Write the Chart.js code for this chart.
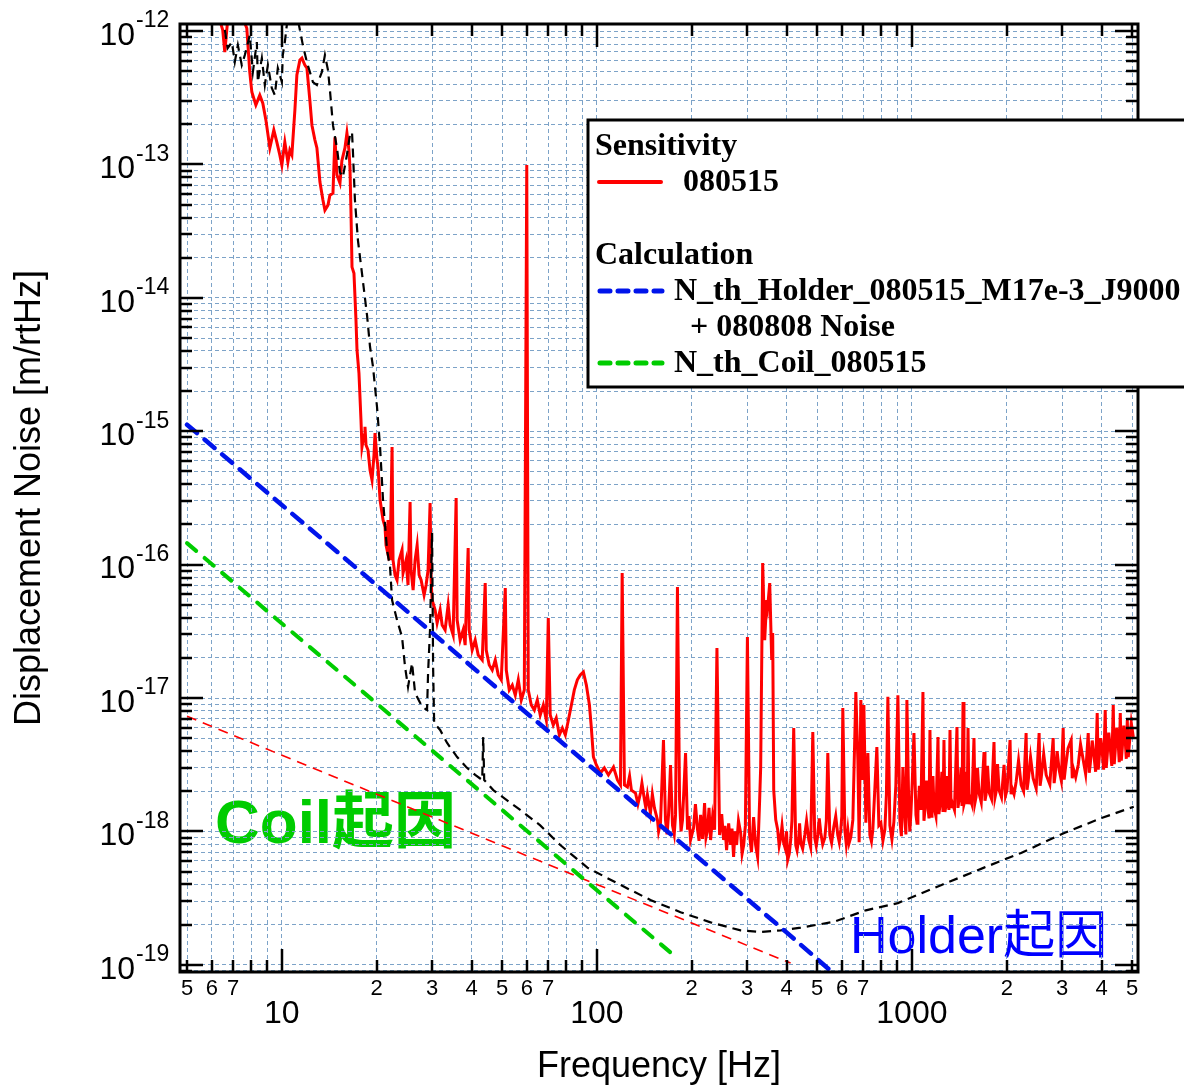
<!DOCTYPE html>
<html>
<head>
<meta charset="utf-8">
<script src="https://cdn.jsdelivr.net/npm/chart.js"></script>
<style>
  html, body { margin: 0; padding: 0; background: #fff; }
  #wrap { width: 1184px; height: 1087px; }
</style>
</head>
<body>
<div id="wrap"><canvas id="myChart" width="1184" height="1087"></canvas></div>
<script>
//measured sensitivity 080515 : [frequency Hz, m/rtHz]
const sensitivity = [
  [6.35,1.21e-12],[6.49,1.02e-12],[6.59,6.96e-13],[6.73,1.21e-12],[7.09,1.44e-12],[7.46,1.32e-12],[7.74,1.05e-12],[7.91,4.93e-13],[8.03,3.49e-13],[8.27,2.79e-13],[8.51,3.31e-13],[8.70,2.88e-13],[8.90,2.15e-13],[9.16,1.33e-13],[9.43,1.81e-13],[9.64,1.47e-13],[9.85,1.18e-13],[10.0,9.9e-14],
  [10.22,1.47e-13],[10.45,1.04e-13],[10.6,1.28e-13],[10.76,1.18e-13],[11.0,2.56e-13],[11.16,4.68e-13],[11.41,6.06e-13],[11.58,6.27e-13],[11.83,5.56e-13],[12.01,5.28e-13],[12.27,3.04e-13],[12.46,1.97e-13],[12.73,1.53e-13],[12.92,1.33e-13],[13.21,7.38e-14],[13.5,5.41e-14],[13.7,4.55e-14],[14.01,4.96e-14],[14.21,5.89e-14],[14.53,6.1e-14],[14.74,1.6e-13],[14.96,8.33e-14],
  [15.29,7.25e-14],[15.51,1.07e-13],[15.86,1.33e-13],[16.09,1.72e-13],[16.33,1.28e-13],[16.45,9.56e-14],[16.57,4.55e-14],[16.7,1.7e-14],[16.94,1.53e-14],[17.19,6.82e-15],[17.32,4.07e-15],[17.57,2.73e-15],[17.83,1.22e-15],[17.96,7.61e-16],[18.23,9.36e-16],[18.36,1.08e-15],[18.5,7.88e-16],[18.77,7.23e-16],[19.05,5.12e-16],[19.33,4.31e-16],[19.61,6.63e-16],[19.76,9.7e-16],
  [20.05,6.08e-16],[20.2,5.39e-16],[20.5,3.05e-16],[20.95,2.16e-16],[21.26,1.91e-16],[21.41,1.4e-16],[21.57,1.29e-16],[21.73,2.16e-16],[22.05,1.08e-16],[22.38,7.61e-16],[22.54,1.08e-16],[22.87,8.36e-17],[23.21,7.67e-17],[23.55,1.08e-16],[24.07,1.29e-16],[24.25,8.65e-17],[24.79,1.08e-16],[25.15,7.03e-17],[25.53,2.95e-16],[25.71,9.11e-17],[26.1,6.45e-17],[26.48,1.08e-16],[26.88,1.4e-16],[27.27,8.36e-17],[27.67,7.67e-17],[28.28,5.91e-17],[28.7,7.03e-17],[29.12,9.11e-17],[29.55,2.9e-16],[29.77,7.67e-17],[29.99,5.43e-17],
  [30.66,4.57e-17],[31.11,3.65e-17],[31.8,4.57e-17],[32.27,3.53e-17],[32.98,3.24e-17],[33.72,4.98e-17],[34.21,3.53e-17],[34.97,2.97e-17],[35.75,3.16e-16],[36.01,3.84e-17],[36.81,2.72e-17],[37.63,3.24e-17],[38.18,2.49e-17],[39.03,1.33e-16],[39.32,3.24e-17],[40.19,2.29e-17],[41.09,2.72e-17],[42.01,2.1e-17],[43.25,1.93e-17],[44.21,7.28e-17],[44.54,2.29e-17],[45.53,1.77e-17],[46.54,1.62e-17],[47.58,1.93e-17],[48.63,1.49e-17],[49.71,1.37e-17],
  [51.2,6.68e-17],[51.57,1.62e-17],[52.71,1.15e-17],[53.88,1.25e-17],[55.08,1.05e-17],[56.3,1.37e-17],[57.55,9.66e-18],[58.83,1.15e-17],[59.9,9.9e-14],[60.57,1.15e-17],[61.9,8.86e-18],[63.3,8.13e-18],[64.7,9.66e-18],[66.1,7.46e-18],[67.6,8.86e-18],[69.1,6.84e-18],[70.1,3.98e-17],[71.1,7.46e-18],[72.7,6.27e-18],[74.3,7.08e-18],[76.0,5.28e-18],[77.7,5.96e-18],[79.4,5.28e-18],[81.2,6.84e-18],[83.0,8.86e-18],[84.8,1.15e-17],[86.7,1.37e-17],[88.6,1.49e-17],[90.6,1.57e-17],[92.6,1.25e-17],[94.7,8.86e-18],[96.0,6.06e-18],[97.5,3.61e-18],[99.6,3.15e-18],
  [102.6,2.74e-18],[105.6,2.99e-18],[108.8,2.65e-18],[112.9,3.04e-18],[116.2,2.43e-18],[118.8,2.23e-18],[120.3,8.65e-17],[122.3,2.23e-18],[125.0,2.15e-18],[127,2.6e-18],[128.7,2.04e-18],[132.6,1.94e-18],[135,1.6e-18],[137.5,1.94e-18],[139,2.3e-18],[141.6,1.72e-18],[143,1.5e-18],[144.7,1.88e-18],[147.9,1.37e-18],[150,1.9e-18],[152.3,1.5e-18],[155.7,1.22e-18],[157,1.0e-18],[159.2,1.16e-18],[162.7,4.84e-18],[165.1,1.22e-18],[167,9.5e-19],[168.8,1.33e-18],[171.3,3.15e-18],[173.8,1.11e-18],[176,9.5e-19],[177.7,1.33e-18],[180.2,6.79e-17],[183.0,1.72e-18],[185,1.0e-18],[187.0,1.22e-18],[191.2,3.87e-18],[194.0,1.03e-18],[196,1.3e-18],[198.3,8.62e-19],
  [202.7,1.06e-18],[205.5,1.6e-18],[208.7,1.03e-18],[211,8.5e-19],[213.4,1.33e-18],[216.5,8.8e-19],[219.7,1.63e-18],[222,9.0e-19],[224.6,1.03e-18],[227,1.5e-18],[229.6,8.62e-19],[233,1.3e-18],[236.4,1.03e-18],[240.5,2.37e-17],[245.2,9.4e-19],[249,1.35e-18],[252.5,8.62e-19],[255,1.1e-18],[258.1,7.25e-19],[262,1.15e-18],[265.8,7.91e-19],[268.5,1.05e-18],[271.6,6.43e-19],[274.5,1.0e-18],[277.7,7.91e-19],[281.5,1.2e-18],[286.0,9.73e-19],[289,6.8e-19],[292.4,7.91e-19],[296,1.1e-18],[300.5,2.87e-17],[305.3,9.4e-19],[309.5,7.0e-19],[314.4,1.28e-18],[319.1,7.91e-19],[323.8,6.43e-19],[328.6,1.72e-18],
  [331.1,3.04e-18],[336.0,1.03e-16],[340.9,2.72e-17],[346.0,5.43e-17],[348.5,4.81e-17],[353.7,7.28e-17],[358.9,1.93e-17],[361.5,3.07e-17],[364.2,2.04e-18],[369.6,1.22e-18],[374.9,1.03e-18],[379,7.8e-19],[383.3,8.92e-19],[387,1.1e-18],[391.7,8.19e-19],[397.5,7.25e-19],[400,1.0e-18],
  [403.3,6.1e-19],[408,6.8e-19],[412.3,8.62e-19],[416,1.2e-18],[421.5,5.96e-18],[427.8,7.91e-19],[432,7.2e-19],[437.3,8.92e-19],[440,1.15e-18],[443.8,8.19e-19],[450,7.4e-19],[457.0,9.4e-19],[463,1.2e-18],[470.6,8.62e-19],[477,7.6e-19],[484.6,5.56e-18],[491.7,8.92e-19],[497,7.8e-19],[502.6,9.4e-19],[508,1.25e-18],[513.8,9.73e-19],[521,8.0e-19],[529.0,8.92e-19],[535,1.2e-18],[540.8,3.87e-18],[548.7,9.4e-19],[556,8.2e-19],[564.9,1.08e-18],[573,1.3e-18],[581.7,9.4e-19],[588,8.3e-19],[594.6,1.03e-18],[599,1.3e-18],
  [603.5,8.41e-18],[612.4,1.03e-18],[619,8.0e-19],[626.0,1.03e-18],[632,8.2e-19],[639.9,9.1e-19],[649.4,1.22e-18],[663.8,1.11e-17],[673.6,3.43e-18],[680,8.3e-19],[688.5,9.66e-18],[698.7,2.43e-18],[703.9,8.86e-18],[714.2,1.16e-18],[724.8,3.87e-18],[735.5,9.4e-19],[744,8.4e-19],[751.6,1.03e-18],[762,2.0e-18],[774.0,4.29e-18],[785.4,1.11e-18],[797.0,1.16e-18],[809,8.5e-19],[820.6,1.03e-18],[830,1.9e-18],[838.9,1.02e-17],[851.2,1.11e-18],[864,8.7e-19],[876.5,1.18e-18],[889,2.2e-18],[902.6,1.05e-17],[915.7,1.22e-18],[926,9.2e-19],[936.3,3.04e-18],[950.0,1.22e-18],[957,9.5e-19],[964.0,9.66e-18],[978.3,1.33e-18],[985,1.0e-18],[992.7,1.37e-18],[1003,2.4e-18],
  [1015,5.46e-18],[1030,1.33e-18],[1038,1.15e-18],[1045,1.37e-18],[1056,2.2e-18],[1068,1.45e-18],[1084,1.11e-17],[1092,1.2e-18],[1100,1.45e-18],[1112,2.4e-18],[1124,1.53e-18],[1133,1.25e-18],[1141,5.76e-18],[1150,1.3e-18],[1158,1.5e-18],[1166,2.6e-18],[1175,1.53e-18],[1192,1.3e-18],[1210,5.1e-18],[1218,1.35e-18],[1227,1.55e-18],[1245,2.8e-18],[1255,1.4e-18],[1264,4.84e-18],[1273,1.4e-18],[1283,1.58e-18],[1292,2.6e-18],[1302,1.63e-18],[1311,1.45e-18],[1321,5.76e-18],[1331,1.5e-18],[1341,1.66e-18],[1365,1.45e-18],[1390,6.06e-18],[1400,1.5e-18],[1411,1.72e-18],[1432,3.0e-18],[1442,1.55e-18],[1453,9.33e-18],[1463,1.6e-18],[1474,1.72e-18],[1490,2.8e-18],[1498,1.6e-18],[1507,5.96e-18],[1518,1.6e-18],[1529,1.78e-18],[1550,1.6e-18],[1574,5.01e-18],[1586,1.65e-18],[1598,1.81e-18],[1615,3.0e-18],[1633,1.94e-18],[1660,1.65e-18],[1694,3.94e-18],[1706,1.7e-18],[1719,1.88e-18],[1738,3.1e-18],[1757,1.97e-18],[1790,1.75e-18],[1822,4.68e-18],[1836,1.8e-18],[1850,1.97e-18],[1870,3.2e-18],[1891,2.04e-18],[1925,1.8e-18],[1961,3.15e-18],[1982,1.85e-18],
  [2004,2.04e-18],[2049,4.84e-18],[2064,1.9e-18],[2080,2.11e-18],[2110,1.9e-18],[2142,2.35e-18],[2180,3.4e-18],[2222,2.23e-18],[2262,2.0e-18],[2304,5.46e-18],[2320,2.05e-18],[2338,2.35e-18],[2380,3.6e-18],[2425,2.51e-18],[2480,2.1e-18],[2534,5.46e-18],[2552,2.2e-18],[2572,2.51e-18],[2620,3.8e-18],[2668,2.65e-18],[2740,2.25e-18],[2808,5.01e-18],[2828,2.3e-18],[2849,2.65e-18],[2890,4.0e-18],[2934,2.88e-18],[2980,2.4e-18],
  [3021,5.96e-18],[3043,2.45e-18],[3066,2.88e-18],[3130,4.2e-18],[3203,4.84e-18],[3228,2.5e-18],[3251,2.99e-18],[3310,2.55e-18],[3372,3.15e-18],[3430,4.5e-18],[3498,3.43e-18],[3560,2.7e-18],[3628,5.46e-18],[3655,2.75e-18],[3681,3.15e-18],[3735,4.8e-18],[3790,3.55e-18],[3830,2.8e-18],[3874,7.72e-18],[3903,2.9e-18],[3931,3.55e-18],[3975,5.0e-18],
  [4019,3.94e-18],[4060,2.9e-18],[4108,8.13e-18],[4138,3.0e-18],[4169,3.74e-18],[4215,5.5e-18],[4262,4.22e-18],[4310,3.1e-18],[4356,8.86e-18],[4388,3.2e-18],[4421,4.08e-18],[4470,6.0e-18],[4519,4.45e-18],[4552,3.3e-18],[4586,7.72e-18],[4620,3.4e-18],[4654,4.22e-18],[4705,6.2e-18],[4757,4.68e-18],[4792,3.5e-18],[4827,6.84e-18],[4862,3.6e-18],[4898,4.45e-18],[4970,6.5e-18],[5044,5.1e-18]
]

//black dashed (total estimate, not in legend)
const totalNoise = [
  [6.59,1.02e-12],[6.73,7.45e-13],[6.94,8.27e-13],[7.09,5.86e-13],[7.25,7.85e-13],[7.46,5.56e-13],[7.63,6.61e-13],[7.91,9.33e-13],[8.09,4.93e-13],[8.33,8.27e-13],[8.39,4.15e-13],[8.64,6.27e-13],[8.83,3.94e-13],[9.03,5.56e-13],[9.29,3.74e-13],[9.5,3.31e-13],[9.71,5.28e-13],[10.0,4.15e-13],[10.07,6.61e-13],[10.22,8.27e-13],[10.37,1.11e-12],[10.53,1.4e-12],
  [11.0,1.6e-12],[11.41,1.02e-12],[11.66,7.85e-13],[12.01,5.86e-13],[12.55,4.15e-13],[12.92,3.94e-13],[13.4,4.93e-13],[13.7,6.61e-13],[14.01,5.1e-13],[14.21,3.61e-13],[14.53,1.97e-13],[14.96,1.33e-13],[15.29,8.74e-14],[15.62,8.03e-14],[16.09,1.18e-13],[16.45,1.66e-13],[16.7,1.75e-13],[16.82,1.22e-13],[17.06,5.41e-14],[17.44,2.7e-14],[17.96,1.53e-14],[18.64,7.38e-15],[19.05,4.3e-15],[19.47,3.04e-15],
  [20.05,1.52e-15],[20.5,7.61e-16],[20.95,3.05e-16],[21.57,1.29e-16],[22.05,9.6e-17],[22.38,5.43e-17],[23.21,3.84e-17],[24.07,2.87e-17],[24.61,1.71e-17],[25.15,1.21e-17],[25.9,1.83e-17],[26.48,1.09e-17],[27.9,8.56e-18],[28.9,8.13e-18],[29.12,1.55e-17],[29.55,3.34e-17],[29.77,8.65e-17],[29.99,1.73e-16],[30.21,1.71e-17],[30.44,6.49e-18],
  [31.8,5.76e-18],[33.47,4.6e-18],[36.01,3.61e-18],[38.46,3.04e-18],[41.09,2.65e-18],[43.25,2.43e-18],[43.57,5.1e-18],[43.89,2.43e-18],[46.9,2.04e-18],[49.1,1.88e-18],[57.1,1.45e-18],[66.1,1.11e-18],[76.5,7.91e-19],[93.3,5.35e-19],
  [118.8,3.97e-19],[147.9,3.06e-19],[184.3,2.48e-19],[229.6,2.08e-19],[286.0,1.81e-19],[331.1,1.76e-19],[383.3,1.81e-19],[443.8,1.9e-19],[564.9,2.1e-19],[714,2.56e-19],[902.6,2.9e-19],[1242,3.97e-19],[1694,5.35e-19],[2222,6.9e-19],[3044,9.73e-19],[4000,1.26e-18],[5060,1.53e-18]
]

const holderCalc = [[5,1.12e-15],[10,2.8e-16],[20,7.0e-17],[50,1.1e-17],[100,2.8e-18],[200,7.0e-19],[400,1.75e-19],[600,7.6e-20]]
const coilCalc = [[5,1.45e-16],[10,3.62e-17],[20,9.1e-18],[50,1.45e-18],[100,3.62e-19],[180,1.12e-19]]
const redDashed = [[5,7.3e-18],[20,1.9e-18],[100,4.0e-19],[412,1.03e-19]]

//axis ticks
const xTickVals = [5,6,7,8,9,10,20,30,40,50,60,70,80,90,100,200,300,400,500,600,700,800,900,1000,2000,3000,4000,5000]
const xTickLabels = ['5','6','7','','',['','10'],'2','3','4','5','6','7','','',['','100'],'2','3','4','5','6','7','','',['','1000'],'2','3','4','5']
const yPowers = [-19,-18,-17,-16,-15,-14,-13,-12]

const SANS = '"Liberation Sans", Arial, sans-serif'
const SERIF = '"Liberation Serif", "Times New Roman", serif'
const CJK = '"Liberation Sans", "Noto Sans CJK JP", sans-serif'
const gridColor = 'rgb(125,163,200)'

const ctx = document.getElementById('myChart').getContext('2d')

const toPts = (arr) => arr.map(p => ({ x: p[0], y: p[1] }))
const isPow10 = (v) => Math.abs(Math.log10(v) - Math.round(Math.log10(v))) < 1e-6

var yTickVals = []
for (let e = -20; e <= -13; e++) {
    for (let m = 1; m <= 9; m++) {
        const v = m * Math.pow(10, e)
        if (v >= 8.83e-20) yTickVals.push(v)
    }
}
yTickVals.push(1e-12)

const framePlugin = {
    id: 'frame',
    beforeDraw(c) {
        //annotation text sits under grid and curves
        const g = c.ctx
        g.save()
        g.textBaseline = 'alphabetic'
        g.textAlign = 'left'
        g.fillStyle = 'rgb(0,204,0)'
        g.font = 'bold 62px ' + CJK
        g.fillText('Coil起因', 215, 843)
        g.fillStyle = 'rgb(0,0,255)'
        g.font = '52px ' + CJK
        g.fillText('Holder起因', 850, 953)
        g.restore()
    },
    afterDraw(c) {
        const g = c.ctx
        const a = c.chartArea
        const xs = c.scales.x
        const ys = c.scales.y
        g.save()

        //inward ticks on all four sides
        g.strokeStyle = '#000'
        g.lineWidth = 2.5
        g.beginPath()
        xs.ticks.forEach(t => {
            const px = Math.round(xs.getPixelForValue(t.value))
            const len = isPow10(t.value) ? 23 : 12
            g.moveTo(px, a.bottom); g.lineTo(px, a.bottom - len)
            g.moveTo(px, a.top); g.lineTo(px, a.top + len)
        })
        ys.ticks.forEach(t => {
            const py = Math.round(ys.getPixelForValue(t.value))
            const len = isPow10(t.value) ? 23 : 12
            g.moveTo(a.left, py); g.lineTo(a.left + len, py)
            g.moveTo(a.right, py); g.lineTo(a.right - len, py)
        })
        g.stroke()

        //frame
        g.lineWidth = 3
        g.strokeRect(a.left, a.top, a.right - a.left, a.bottom - a.top)

        //y labels 10^n
        g.fillStyle = '#000'
        yPowers.forEach(p => {
            const py = ys.getPixelForValue(Math.pow(10, p))
            g.textBaseline = 'middle'
            g.textAlign = 'right'
            g.font = '32px ' + SANS
            g.fillText('10', 135, py + 5)
            g.textAlign = 'left'
            g.font = '23px ' + SANS
            g.fillText(String(p), 136, py - 10)
        })

        //legend box
        g.fillStyle = '#fff'
        g.fillRect(588, 120, 620, 267)
        g.lineWidth = 3
        g.strokeStyle = '#000'
        g.strokeRect(588, 120, 620, 267)
        g.fillStyle = '#000'
        g.textAlign = 'left'
        g.textBaseline = 'middle'
        g.font = 'bold 32px ' + SERIF
        g.fillText('Sensitivity', 595, 147)
        g.fillText('080515', 683, 183)
        g.fillText('Calculation', 595, 256)
        g.fillText('N_th_Holder_080515_M17e-3_J9000', 674, 292)
        g.fillText('+ 080808 Noise', 690, 328)
        g.fillText('N_th_Coil_080515', 674, 364)

        g.lineCap = 'round'
        g.lineWidth = 4
        g.strokeStyle = 'rgb(255,0,0)'
        g.beginPath(); g.moveTo(599, 182); g.lineTo(661, 182); g.stroke()
        g.setLineDash([10, 8])
        g.lineWidth = 5
        g.strokeStyle = 'rgb(0,20,235)'
        g.beginPath(); g.moveTo(600, 291); g.lineTo(662, 291); g.stroke()
        g.strokeStyle = 'rgb(0,204,0)'
        g.beginPath(); g.moveTo(600, 363); g.lineTo(662, 363); g.stroke()
        g.restore()
    }
}

var chart = new Chart(ctx, {
    type: 'line',
    data: {
        datasets: [
            { label: 'N_th_Holder', data: toPts(holderCalc), borderColor: 'rgb(0,20,235)', borderWidth: 4.5, borderDash: [13, 10], borderCapStyle: 'round' },
            { label: 'N_th_Coil', data: toPts(coilCalc), borderColor: 'rgb(0,204,0)', borderWidth: 4, borderDash: [12, 11], borderCapStyle: 'round' },
            { label: 'total', data: toPts(totalNoise), borderColor: '#000', borderWidth: 2.2, borderDash: [9, 6] },
            { label: 'red dashed', data: toPts(redDashed), borderColor: 'rgb(255,0,0)', borderWidth: 1.6, borderDash: [10, 7] },
            { label: '080515', data: toPts(sensitivity), borderColor: 'rgb(255,0,0)', borderWidth: 3 }
        ]
    },
    options: {
        responsive: false,
        animation: false,
        devicePixelRatio: 1,
        layout: { padding: { top: 24, right: 46, left: 0, bottom: 0 } },
        elements: { point: { radius: 0 }, line: { tension: 0, fill: false } },
        plugins: { legend: { display: false }, tooltip: { enabled: false } },
        scales: {
            x: {
                type: 'logarithmic',
                min: 4.75,
                max: 5220,
                afterBuildTicks: (s) => { s.ticks = xTickVals.map(v => ({ value: v })) },
                afterFit: (s) => { s.height = 115 },
                grid: { color: gridColor, lineWidth: 1, drawTicks: false },
                border: { display: false, dash: [4, 3] },
                ticks: {
                    autoSkip: false,
                    maxRotation: 0,
                    padding: 4,
                    color: '#000',
                    font: (c) => (c.tick && isPow10(c.tick.value)) ? { family: SANS, size: 32, lineHeight: 0.79 } : { family: SANS, size: 22, lineHeight: 1.2 },
                    callback: (v, i) => xTickLabels[i]
                },
                title: { display: true, text: 'Frequency [Hz]', color: '#000', font: { family: SANS, size: 36, lineHeight: 1 }, padding: { top: 0, bottom: 2 } }
            },
            y: {
                type: 'logarithmic',
                min: 8.83e-20,
                max: 1.13e-12,
                afterBuildTicks: (s) => { s.ticks = yTickVals.map(v => ({ value: v })) },
                afterFit: (s) => { s.width = 180 },
                grid: { color: gridColor, lineWidth: 1, drawTicks: false },
                border: { display: false, dash: [4, 3] },
                ticks: { display: false },
                title: { display: true, text: 'Displacement Noise [m/rtHz]', color: '#000', font: { family: SANS, size: 36, lineHeight: 1 }, padding: { top: 12, bottom: 0 } }
            }
        }
    },
    plugins: [framePlugin]
})
</script>
</body>
</html>
